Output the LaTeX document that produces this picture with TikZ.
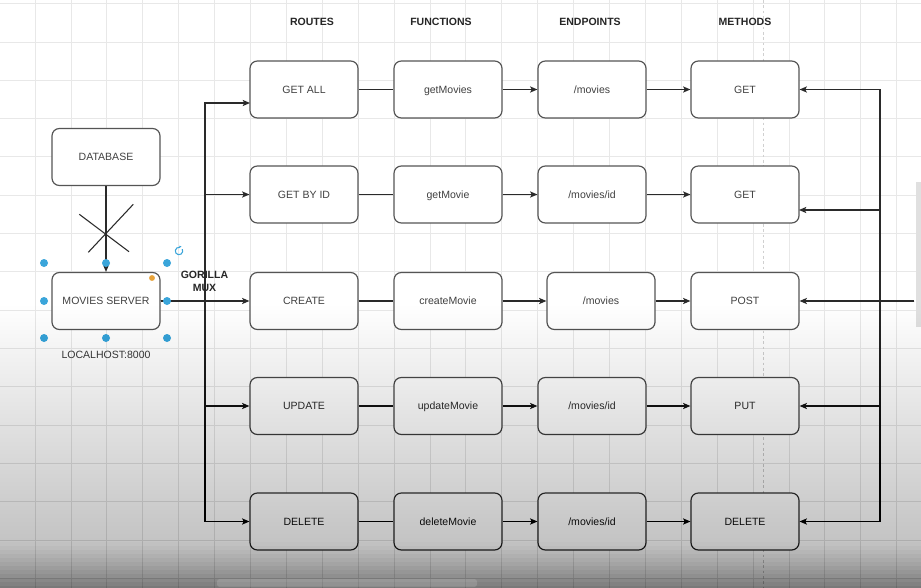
\documentclass[tikz,border=0pt]{standalone}
\usepackage{fontspec}
\setmainfont{Liberation Sans}
\usetikzlibrary{arrows.meta,calc}

\definecolor{gridc}{HTML}{E8E8E8}
\definecolor{pagebreak}{HTML}{D0D0D0}
\definecolor{boxline}{HTML}{555555}
\definecolor{txt}{HTML}{404040}
\definecolor{wirec}{HTML}{2A2A2A}
\definecolor{handle}{HTML}{3AA5DA}
\definecolor{knob}{HTML}{E8A33A}

\begin{document}
\begin{tikzpicture}[x=0.75pt,y=-0.75pt,
  declare function={
    veilA(\t)=(\t<=230) ? 0 :
      ((\t<=540) ? 0.2*(max(\t-230,0)/310)^1.5 : 0.2+0.3*(max(\t-540,0)/48)^1.2);
  },
  box/.style={draw=boxline, line width=0.9pt, rounded corners=5.5pt, fill=white,
    minimum width=81pt, minimum height=42.75pt, inner sep=0pt,
    text height=5.8pt, text depth=0.2pt,
    font=\fontsize{7.9}{9.5}\selectfont, text=txt},
  head/.style={font=\bfseries\fontsize{7.9}{9.75}\selectfont, text=black!85, inner sep=0pt},
  plain/.style={font=\fontsize{7.9}{9.5}\selectfont, text=txt, inner sep=0pt},
  wire/.style={draw=wirec, line width=0.9pt},
  arr/.style={wire, -{Stealth[length=5.5pt,width=4.6pt,inset=1.3pt]}},
  dot/.style={circle, fill=handle, minimum size=6pt, inner sep=0pt}
]
\useasboundingbox (0,0) rectangle (921,588);
\fill[white] (0,0) rectangle (921,588);

% canvas grid
\foreach \i in {0,...,26} \draw[gridc, line width=0.6pt] ({-0.9+35.9*\i},0) -- ++(0,588);
\foreach \j in {0,...,15} \draw[gridc, line width=0.6pt] (0,{3.7+38.3*\j}) -- ++(921,0);
\draw[pagebreak, line width=0.6pt, dash pattern=on 2pt off 2pt] (763,0) -- (763,588);

% vertical scrollbar
\fill[black!12] (916,182) rectangle (921,327);

% column headings
\node[head] (hR) at (312,22) {ROUTES};
\node[head] (hF) at (441,22) {FUNCTIONS};
\node[head] (hE) at (590,22) {ENDPOINTS};
\node[head] (hM) at (745,22) {METHODS};

% server side
\node[box] (db)  at (106,157) {DATABASE};
\node[box] (srv) at (106,301) {MOVIES SERVER};
\node[plain] (lh) at (106,355) {LOCALHOST:8000};
\node[head, align=center] (mux) at (204.5,281) {GORILLA\\MUX};

% routes
\node[box] (r1) at (304,89.5)  {GET ALL};
\node[box] (r2) at (304,194.5) {GET BY ID};
\node[box] (r3) at (304,301)   {CREATE};
\node[box] (r4) at (304,406)   {UPDATE};
\node[box] (r5) at (304,521.5) {DELETE};

% handler functions
\node[box] (f1) at (448,89.5)  {getMovies};
\node[box] (f2) at (448,194.5) {getMovie};
\node[box] (f3) at (448,301)   {createMovie};
\node[box] (f4) at (448,406)   {updateMovie};
\node[box] (f5) at (448,521.5) {deleteMovie};

% endpoints
\node[box] (e1) at (592,89.5)  {/movies};
\node[box] (e2) at (592,194.5) {/movies/id};
\node[box] (e3) at (601,301)   {/movies};
\node[box] (e4) at (592,406)   {/movies/id};
\node[box] (e5) at (592,521.5) {/movies/id};

% HTTP methods
\node[box] (m1) at (745,89.5)  {GET};
\node[box] (m2) at (745,194.5) {GET};
\node[box] (m3) at (745,301)   {POST};
\node[box] (m4) at (745,406)   {PUT};
\node[box] (m5) at (745,521.5) {DELETE};

% database link, struck through
\draw[arr] (db.south) -- (srv.north);
\draw[wirec, line width=0.8pt] (79.3,214.3) -- (129,251.7);
\draw[wirec, line width=0.8pt] (133.3,204.3) -- (88.3,252.3);

% router fan-out
\coordinate (busL) at (205,301);
\coordinate (r1in) at (250,103);
\draw[arr] (srv.east) -- (r3.west);
\draw[arr] (srv.east) -- (busL) |- (r1in);
\draw[arr] (srv.east) -- (busL) |- (r2.west);
\draw[arr] (srv.east) -- (busL) |- (r4.west);
\draw[arr] (srv.east) -- (busL) |- (r5.west);

% row chains
\foreach \k in {1,...,5}{
  \draw[wire] (r\k.east) -- (f\k.west);
  \draw[arr] (f\k.east) -- (e\k.west);
  \draw[arr] (e\k.east) -- (m\k.west);
}

% incoming requests on the right
\coordinate (src)  at (914,301);
\coordinate (busR) at (880,301);
\coordinate (m2in) at (799,210);
\draw[arr] (src) -- (m3.east);
\draw[arr] (src) -- (busR) |- (m1.east);
\draw[arr] (src) -- (busR) |- (m2in);
\draw[arr] (src) -- (busR) |- (m4.east);
\draw[arr] (src) -- (busR) |- (m5.east);

% selection handles on the server box
\foreach \p in {(44,263),(106,263),(167,263),(44,301),(167,301),(44,338),(106,338),(167,338)}
  \node[dot] at \p {};
\draw[handle, line width=0.8pt] (179,251) ++(80:2.8pt) arc[start angle=80, end angle=390, radius=2.8pt];
\fill[handle] (179,251) ++(80:2.8pt) ++(1.4pt,0.6pt) -- ++(-1.8pt,-1.2pt) -- ++(0.2pt,1.8pt) -- cycle;
\fill[knob] (152,278) circle[radius=2.2pt];

% darkening towards the lower edge: stacked layers, each reaching the bottom
\foreach \y in {234,238,...,586}{
  \pgfmathsetmacro{\dlt}{1-(1-veilA(\y))/(1-veilA(\y-4))}
  \fill[black, fill opacity=\dlt] (0,\y) rectangle (921,588);
}

% horizontal scrollbar
\fill[white, opacity=0.14, rounded corners=2pt] (217,579) rectangle (477,587);
\end{tikzpicture}
\end{document}
